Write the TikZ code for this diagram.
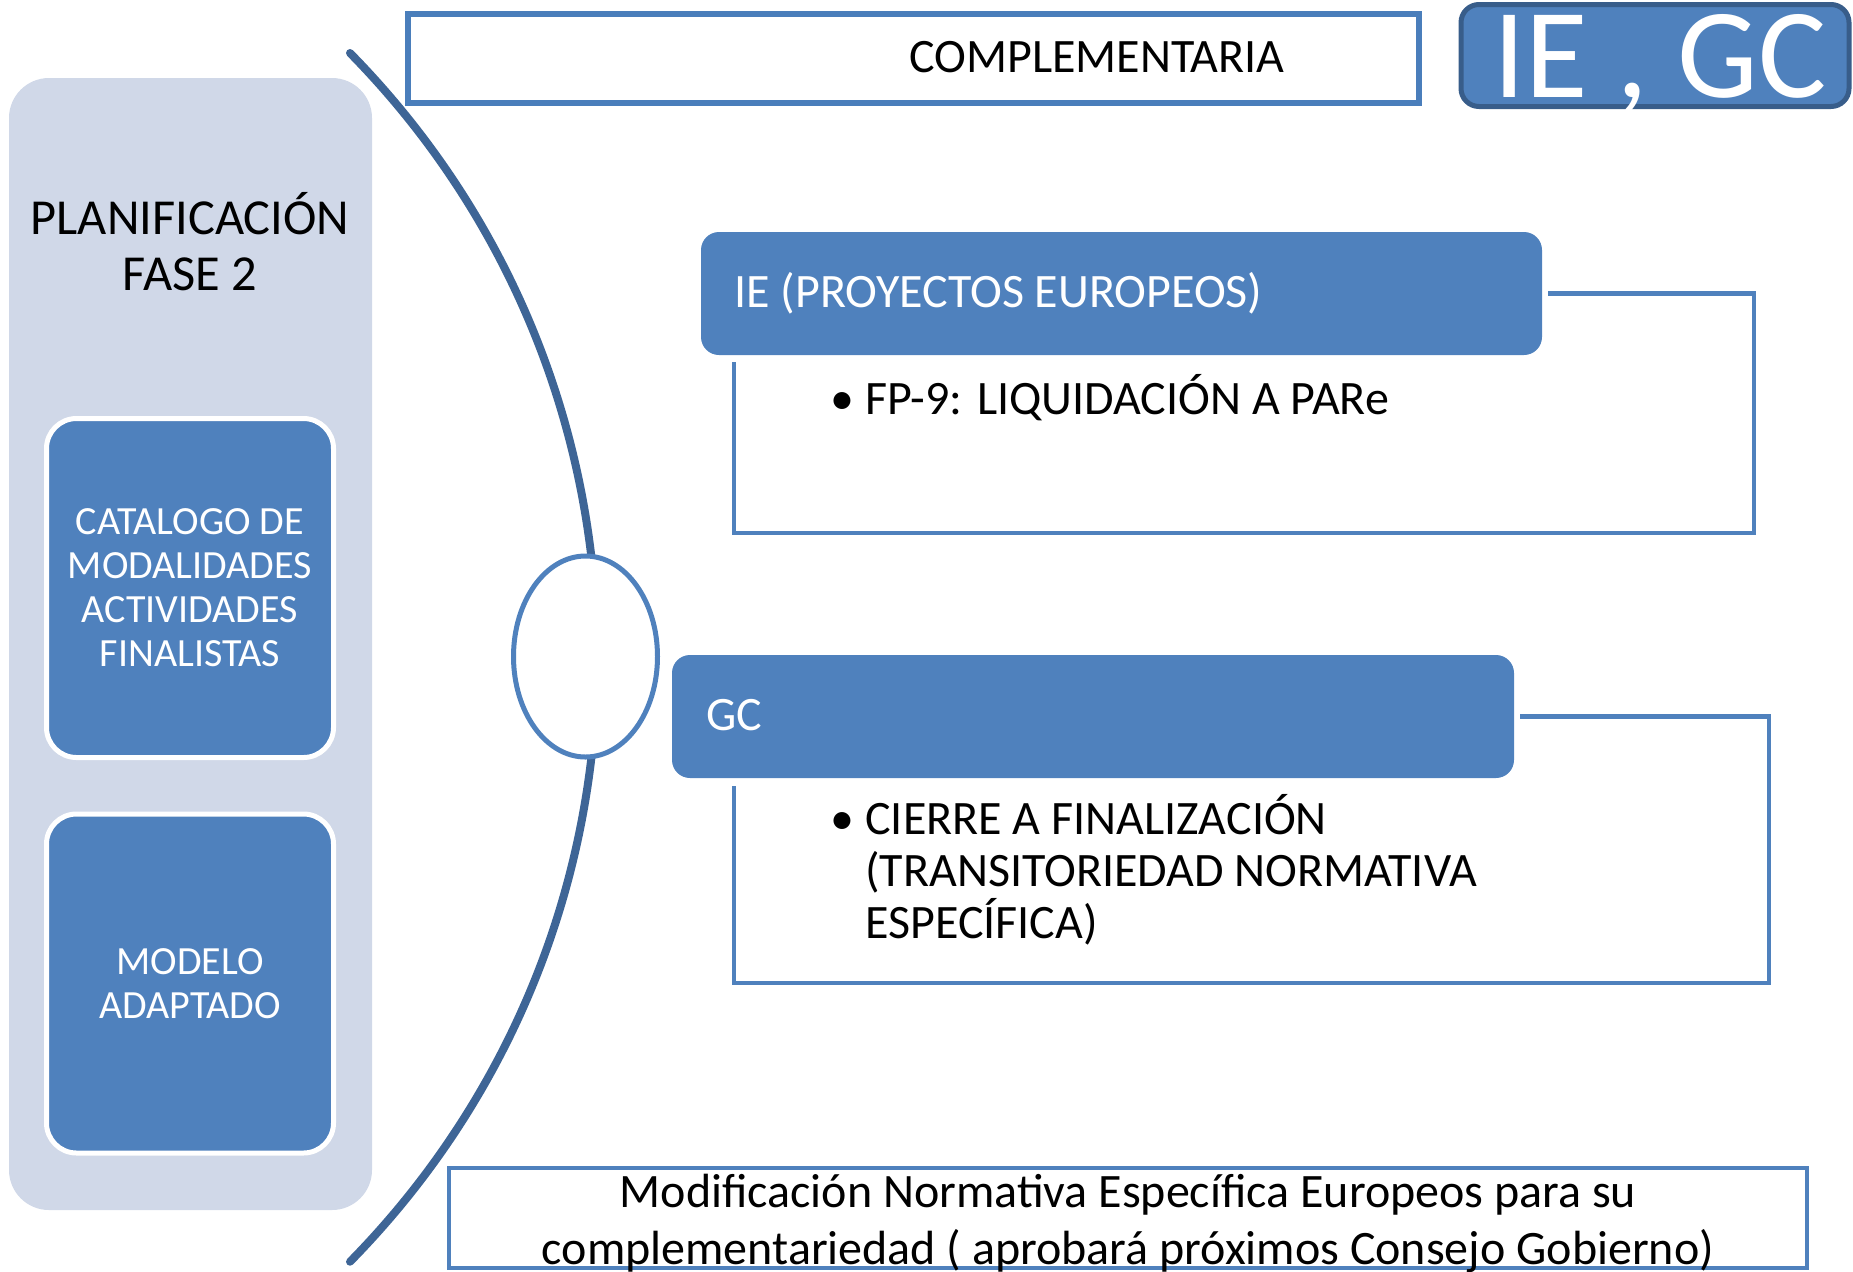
\documentclass[tikz,border=0pt]{standalone}
\usepackage{fontspec}
\setmainfont{Carlito}
\usetikzlibrary{shapes.geometric,shadows}
\definecolor{acc}{RGB}{79,129,189}
\definecolor{accdark}{RGB}{56,93,138}
\definecolor{arcc}{RGB}{62,101,150}
\definecolor{panelc}{RGB}{208,216,232}
\definecolor{compborder}{RGB}{74,126,187}
\begin{document}
\begin{tikzpicture}[x=0.5pt,y=-0.5pt,
  panelbox/.style={fill=panelc, rounded corners=20pt, inner sep=0pt},
  innerbox/.style={fill=acc, draw=white, line width=2.5pt, rounded corners=15pt, inner sep=0pt,
    text=white, align=center, font=\fontsize{20}{22}\selectfont},
  hdr/.style={fill=acc, rounded corners=9pt, inner sep=0pt},
  hdrtext/.style={text=white, inner sep=0pt, font=\fontsize{24}{26}\selectfont},
  bodytext/.style={text=black, inner sep=0pt, font=\fontsize{24}{26}\selectfont},
  bracket/.style={draw=acc, line width=2.25pt},
  arcline/.style={draw=arcc, line width=4pt, line cap=round}]
\useasboundingbox (0,0) rectangle (1853,1271);

% left panel
\node[panelbox, minimum width=181.5pt, minimum height=566pt] (panel) at (190.5,644) {};
\node[inner sep=0pt, align=center, font=\fontsize{25.2}{27.75}\selectfont] (plan) at (190,241.5) {PLANIFICACIÓN\\FASE 2};
\node[innerbox, minimum width=143.5pt, minimum height=169.5pt] (cat) at (190,588) {CATALOGO DE\\MODALIDADES\\ACTIVIDADES\\FINALISTAS};
\node[innerbox, minimum width=143.5pt, minimum height=169.5pt] (mod) at (190,983.5) {MODELO\\ADAPTADO};

% top boxes
\node[draw=compborder, line width=3pt, fill=white, inner sep=0pt, minimum width=505.5pt, minimum height=44.5pt,
  drop shadow={opacity=0.25, shadow xshift=1.5pt, shadow yshift=-1.5pt}] (comp) at (913.5,58.5) {};
\node[bodytext, anchor=base] (comptxt) at (1097,72) {COMPLEMENTARIA};

% arc and ring
\draw[arcline] (350,53) arc[start angle=-44.5, end angle=44.5, radius=862.3];
\node[ellipse, draw=acc, line width=2.5pt, fill=white, minimum width=72pt, minimum height=100.5pt, inner sep=0pt] (ring) at (585.5,656.5) {};

\node[fill=acc, draw=accdark, line width=2.5pt, rounded corners=9pt, inner sep=0pt, minimum width=194pt, minimum height=51pt] (iegc) at (1655,55.5) {};
\node[text=white, inner sep=0pt, anchor=base, font=\fontsize{64}{64}\selectfont] (iegctxt) at (1660,97) {IE , GC};

% IE block
\node[hdr, minimum width=420.5pt, minimum height=61.5pt] (iehead) at (1121.5,293.5) {};
\node[hdrtext, anchor=base west] (ietxt) at (734,307) {IE (PROYECTOS EUROPEOS)};
\coordinate (ieBR) at (1754,533);
\coordinate (ieBL) at (734,533);
\draw[bracket] ([xshift=3pt]iehead.east) -| (ieBR) -- (ieBL) -- ([yshift=-3.5pt]iehead.south -| ieBL);
\node[bodytext, anchor=base west] (b1) at (830,414) {•};
\node[bodytext, anchor=base west] (t1) at (865,414) {FP-9: LIQUIDACIÓN A PARe};

% GC block
\node[hdr, minimum width=421pt, minimum height=61.5pt] (gchead) at (1093,716.5) {};
\node[hdrtext, anchor=base west] (gctxt) at (706,730) {GC};
\coordinate (gcBR) at (1769,983);
\coordinate (gcBL) at (734,983);
\draw[bracket] ([xshift=3pt]gchead.east) -| (gcBR) -- (gcBL) -- ([yshift=-4pt]gchead.south -| gcBL);
\node[bodytext, anchor=base west] (b2) at (830,834) {•};
\node[bodytext, anchor=base west, align=left] (t2) at (865,938) {CIERRE A FINALIZACIÓN\\(TRANSITORIEDAD NORMATIVA\\ESPECÍFICA)};

% bottom box
\node[draw=acc, line width=2pt, fill=white, inner sep=0pt, minimum width=679pt, minimum height=50pt] (norm) at (1128,1218) {};
\node[bodytext, align=center, font=\fontsize{24}{28.5}\selectfont] (normtxt) at (1128,1223) {Modificación Normativa Específica Europeos para su\\complementariedad ( aprobará próximos Consejo Gobierno)};
\end{tikzpicture}
\end{document}
